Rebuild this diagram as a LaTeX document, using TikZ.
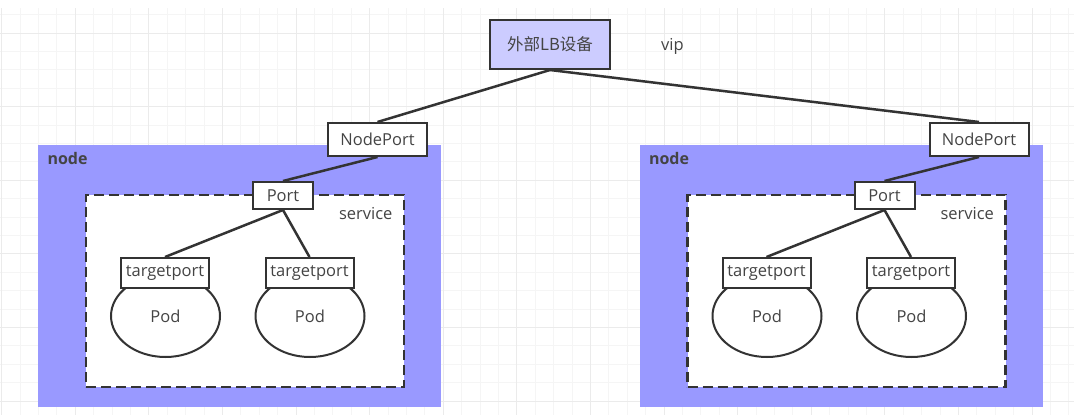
\documentclass[tikz,border=0pt]{standalone}
\usepackage{fontspec}
\setmainfont{Open Sans}
\newfontfamily\cjk{Noto Sans CJK SC}
\usetikzlibrary{shapes.geometric}
\definecolor{nodeblue}{HTML}{9999FF}
\definecolor{lbfill}{HTML}{CCCCFF}
\definecolor{ink}{HTML}{333333}
\definecolor{txt}{HTML}{444444}
\tikzset{box/.style={rectangle,draw=ink,line width=2pt,fill=white,inner sep=0pt,text=txt},
            hostbox/.style={rectangle,fill=nodeblue,inner sep=0pt,minimum width=403pt,minimum height=262pt},
            svcbox/.style={rectangle,draw=ink,fill=white,line width=2.5pt,dash pattern=on 10pt off 5pt,inner sep=0pt,minimum width=318pt,minimum height=192pt},
            pod/.style={ellipse,draw=ink,line width=2pt,fill=white,inner sep=0pt,minimum width=109pt,minimum height=82pt,text=txt},
            np/.style={box,minimum width=99pt,minimum height=33pt},
            port/.style={box,minimum width=60pt,minimum height=27pt},
            tport/.style={box,minimum width=88pt,minimum height=30pt},
            hostlbl/.style={anchor=west,font=\fontsize{16}{19}\selectfont\bfseries},
            link/.style={draw=ink,line width=2.5pt},
            minorline/.style={draw=black!4,line width=1pt},
            majorline/.style={draw=black!8,line width=1pt}}

\begin{document}
\begin{tikzpicture}[x=1pt,y=-1pt,every node/.style={font=\fontsize{16.5}{19}\selectfont,text=txt}]
\useasboundingbox (0,0) rectangle (1074,415);
\foreach \i in {0,...,58} \draw[minorline] ({1.7+18.4*\i},8) -- ({1.7+18.4*\i},415);
\foreach \j in {0,...,21} \draw[minorline] (0,{14.6+18.4*\j}) -- (1074,{14.6+18.4*\j});
\foreach \i in {0,4,...,56} \draw[majorline] ({1.7+18.4*\i},8) -- ({1.7+18.4*\i},415);
\foreach \j in {1,5,...,21} \draw[majorline] (0,{14.6+18.4*\j}) -- (1074,{14.6+18.4*\j});

\node[box,fill=lbfill,minimum width=120pt,minimum height=49pt] at (550,44.5)(lb){\cjk 外部LB设备};
\node at (672.5,46)(vip){vip};

\node[hostbox] at (239.5,276)(lnode){};
\node[hostlbl] at (44,158)(lnodelbl){node};
\node[svcbox] at (245,291)(lsvc){};
\node[anchor=east] at (396,214)(lsvclbl){service};
\node[pod] at (165.5,316)(lpod1){Pod};
\node[pod] at (310,316)(lpod2){Pod};
\node[tport] at (165,273)(ltp1){targetport};
\node[tport] at (309.5,273)(ltp2){targetport};
\node[port] at (283,195.5)(lport){Port};
\node[np] at (377.5,139.5)(lnp){NodePort};

\node[hostbox] at (841,276)(rnode){};
\node[hostlbl] at (645.5,158)(rnodelbl){node};
\node[svcbox] at (846.5,291)(rsvc){};
\node[anchor=east] at (997.5,214)(rsvclbl){service};
\node[pod] at (767,316)(rpod1){Pod};
\node[pod] at (911.5,316)(rpod2){Pod};
\node[tport] at (766.5,273)(rtp1){targetport};
\node[tport] at (911,273)(rtp2){targetport};
\node[port] at (884.5,195.5)(rport){Port};
\node[np] at (979,139.5)(rnp){NodePort};

\draw[link] (lb.south) -- (lnp.north);
\draw[link] (lb.south) -- (rnp.north);
\draw[link] (lnp.south) -- (lport.north);
\draw[link] (lport.south) -- (ltp1.north);
\draw[link] (lport.south) -- (ltp2.north);
\draw[link] (rnp.south) -- (rport.north);
\draw[link] (rport.south) -- (rtp1.north);
\draw[link] (rport.south) -- (rtp2.north);
\end{tikzpicture}
\end{document}
